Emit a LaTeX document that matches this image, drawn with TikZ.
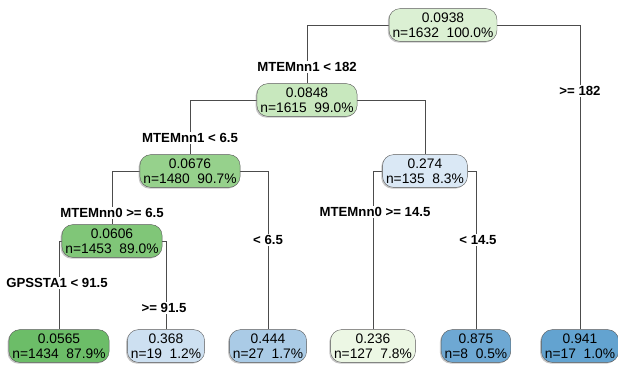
\documentclass[tikz,border=0pt]{standalone}
\usepackage{fontspec}
\setmainfont{Liberation Sans}
\usetikzlibrary{shadows,backgrounds}

% fill colours, green = low fitted value, blue = high
\definecolor{fitA}{RGB}{219,240,211}
\definecolor{fitB}{RGB}{200,232,190}
\definecolor{fitC}{RGB}{150,209,140}
\definecolor{fitD}{RGB}{128,198,120}
\definecolor{fitE}{RGB}{108,189,104}
\definecolor{fitF}{RGB}{236,247,228}
\definecolor{fitG}{RGB}{218,232,245}
\definecolor{fitH}{RGB}{205,224,241}
\definecolor{fitI}{RGB}{170,203,230}
\definecolor{fitJ}{RGB}{110,168,211}
\definecolor{fitK}{RGB}{99,163,208}

\begin{document}
\begin{tikzpicture}[x=1pt,y=-1pt,
  nodebox/.style={draw=black!65, rounded corners=11pt, align=center,
    inner xsep=3.5pt, inner ysep=4pt, font=\fontsize{13.8}{15}\selectfont,
    drop shadow={shadow xshift=-1.3pt, shadow yshift=-1.3pt, fill=black!45}},
  splitlab/.style={fill=white, inner sep=1pt, font=\fontsize{13.2}{15}\selectfont\bfseries},
  edge/.style={draw=black!70, line width=0.8pt}]
\useasboundingbox (0,0) rectangle (618,369);

% Inner nodes
\node[nodebox, fill=fitA] (root) at (443,25) {0.0938\\n=1632\ \ 100.0\%};
\node[nodebox, fill=fitB] (mtA) at (307,100) {0.0848\\n=1615\ \ 99.0\%};
\node[nodebox, fill=fitC] (mtB) at (190,171) {0.0676\\n=1480\ \ 90.7\%};
\node[nodebox, fill=fitG] (mtC) at (425,171) {0.274\\n=135\ \ 8.3\%};
\node[nodebox, fill=fitD] (mtD) at (112,241) {0.0606\\n=1453\ \ 89.0\%};

% Leaves
\node[nodebox, fill=fitE] (lfA) at (59,346) {0.0565\\n=1434\ \ 87.9\%};
\node[nodebox, fill=fitH] (lfB) at (166,346) {0.368\\n=19\ \ 1.2\%};
\node[nodebox, fill=fitI] (lfC) at (268,346) {0.444\\n=27\ \ 1.7\%};
\node[nodebox, fill=fitF] (lfD) at (373,346) {0.236\\n=127\ \ 7.8\%};
\node[nodebox, fill=fitJ] (lfE) at (476,346) {0.875\\n=8\ \ 0.5\%};
\node[nodebox, fill=fitK] (lfF) at (580,346) {0.941\\n=17\ \ 1.0\%};

% Split labels
\node[splitlab] (sA) at (307,67) {MTEMnn1 < 182};
\node[splitlab] (sAr) at (580,91) {>= 182};
\node[splitlab] (sB) at (190,138) {MTEMnn1 < 6.5};
\node[splitlab] (sBr) at (268,240) {< 6.5};
\node[splitlab] (sC) at (375,212) {MTEMnn0 >= 14.5};
\node[splitlab] (sCr) at (478,240) {< 14.5};
\node[splitlab] (sD) at (112,213) {MTEMnn0 >= 6.5};
\node[splitlab] (sE) at (57,283) {GPSSTA1 < 91.5};
\node[splitlab] (sEr) at (164,308) {>= 91.5};

% Branches
\begin{scope}[on background layer]
  \draw[edge] (root.west) -| (mtA.north);
  \draw[edge] (root.east) -| (lfF.north);
  \draw[edge] (mtA.west) -| (mtB.north);
  \draw[edge] (mtA.east) -| (mtC.north);
  \draw[edge] (mtB.west) -| (mtD.north);
  \draw[edge] (mtB.east) -| (lfC.north);
  \draw[edge] (mtC.west) -| (lfD.north);
  \draw[edge] (mtC.east) -| (lfE.north);
  \draw[edge] (mtD.west) -| (lfA.north);
  \draw[edge] (mtD.east) -| (lfB.north);
\end{scope}
\end{tikzpicture}
\end{document}
